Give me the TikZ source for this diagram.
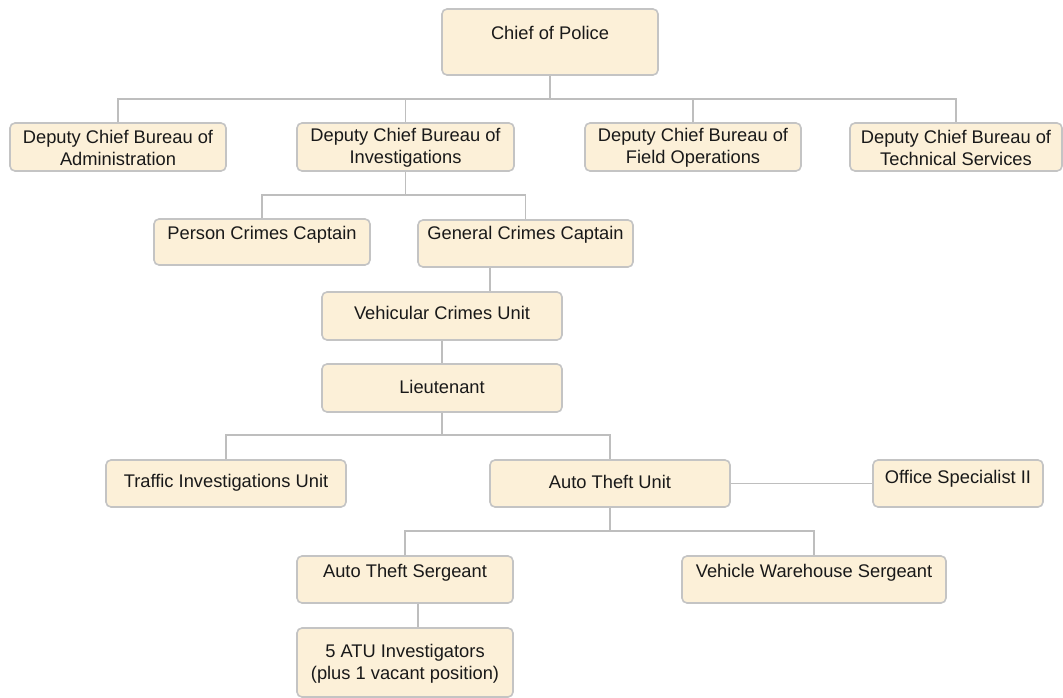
\documentclass[tikz,border=0pt]{standalone}
\usepackage{fontspec}
\setmainfont{Liberation Sans}
\definecolor{boxfill}{RGB}{252,240,216}
\definecolor{boxline}{RGB}{196,196,196}
\definecolor{conline}{RGB}{190,190,190}
\definecolor{txtcol}{RGB}{25,25,25}
\begin{document}
\begin{tikzpicture}[x=1pt,y=-1pt,
  box/.style={draw=boxline, line width=1.6pt, fill=boxfill, rounded corners=5pt, inner sep=0pt},
  txt/.style={text=txtcol, font=\fontsize{18.3}{21.5}\selectfont, align=center, inner sep=0pt},
  con/.style={draw=conline, line width=1.6pt}]
\useasboundingbox (0,0) rectangle (1063,698);
\fill[white] (0,0) rectangle (1063,698);
% coordinates for connector lines
\coordinate (topbar) at (0,99);
\coordinate (invbar) at (0,195);
\coordinate (ltbar) at (0,435);
\coordinate (atbar) at (0,531);
\coordinate (gcv) at (490,0);
\coordinate (asv) at (418,0);
% boxes
\node[box, minimum width=216pt, minimum height=66pt] (chief) at (550,42) {};
\node[box, minimum width=216pt, minimum height=48pt] (adm) at (118,147) {};
\node[box, minimum width=217pt, minimum height=48pt] (inv) at (405.5,147) {};
\node[box, minimum width=216pt, minimum height=48pt] (fld) at (693,147) {};
\node[box, minimum width=212pt, minimum height=48pt] (tec) at (956,147) {};
\node[box, minimum width=216pt, minimum height=46pt] (pc) at (262,242) {};
\node[box, minimum width=215pt, minimum height=47pt] (gc) at (525.5,243.5) {};
\node[box, minimum width=240pt, minimum height=48pt] (vc) at (442,316) {};
\node[box, minimum width=240pt, minimum height=48pt] (lt) at (442,388) {};
\node[box, minimum width=240pt, minimum height=47pt] (tr) at (226,483.5) {};
\node[box, minimum width=240pt, minimum height=47pt] (at) at (610,483.5) {};
\node[box, minimum width=170pt, minimum height=47pt] (os) at (958,483.5) {};
\node[box, minimum width=216pt, minimum height=47pt] (as) at (405,579.5) {};
\node[box, minimum width=264pt, minimum height=47pt] (vw) at (814,579.5) {};
\node[box, minimum width=216pt, minimum height=69pt] (atu) at (405,662.5) {};
% texts
\node[txt] (chiefT) at (550,33) {Chief of Police};
\node[txt] (admT) at (118,148) {Deputy Chief Bureau of\\Administration};
\node[txt] (invT) at (405.5,148) {Deputy Chief Bureau of\\Investigations};
\node[txt] (fldT) at (693,148) {Deputy Chief Bureau of\\Field Operations};
\node[txt] (tecT) at (956,148) {Deputy Chief Bureau of\\Technical Services};
\node[txt] (pcT) at (262,235) {Person Crimes Captain};
\node[txt] (gcT) at (525.5,235) {General Crimes Captain};
\node[txt] (vcT) at (442,313) {Vehicular Crimes Unit};
\node[txt] (ltT) at (442,387) {Lieutenant};
\node[txt] (trT) at (226,483) {Traffic Investigations Unit};
\node[txt] (atT) at (610,482) {Auto Theft Unit};
\node[txt] (osT) at (958,479) {Office Specialist II};
\node[txt] (asT) at (405,573) {Auto Theft Sergeant};
\node[txt] (vwT) at (814,573) {Vehicle Warehouse Sergeant};
\node[txt] (atuT) at (405,664) {5 ATU Investigators\\(plus 1 vacant position)};
% connectors
\draw[con] (chief.south) -- (chief.south |- topbar);
\draw[con] (adm.north) -- (adm.north |- topbar) -- (tec.north |- topbar) -- (tec.north);
\draw[con] (inv.north) -- (inv.north |- topbar);
\draw[con] (fld.north) -- (fld.north |- topbar);
\draw[con] (inv.south) -- (inv.south |- invbar);
\draw[con] (pc.north) -- (pc.north |- invbar) -- (gc.north |- invbar) -- (gc.north);
\draw[con] (gc.south -| gcv) -- (vc.north -| gcv);
\draw[con] (vc.south) -- (lt.north);
\draw[con] (lt.south) -- (lt.south |- ltbar);
\draw[con] (tr.north) -- (tr.north |- ltbar) -- (at.north |- ltbar) -- (at.north);
\draw[con] (at.east) -- (os.west);
\draw[con] (at.south) -- (at.south |- atbar);
\draw[con] (as.north) -- (as.north |- atbar) -- (vw.north |- atbar) -- (vw.north);
\draw[con] (as.south -| asv) -- (atu.north -| asv);
\end{tikzpicture}
\end{document}
